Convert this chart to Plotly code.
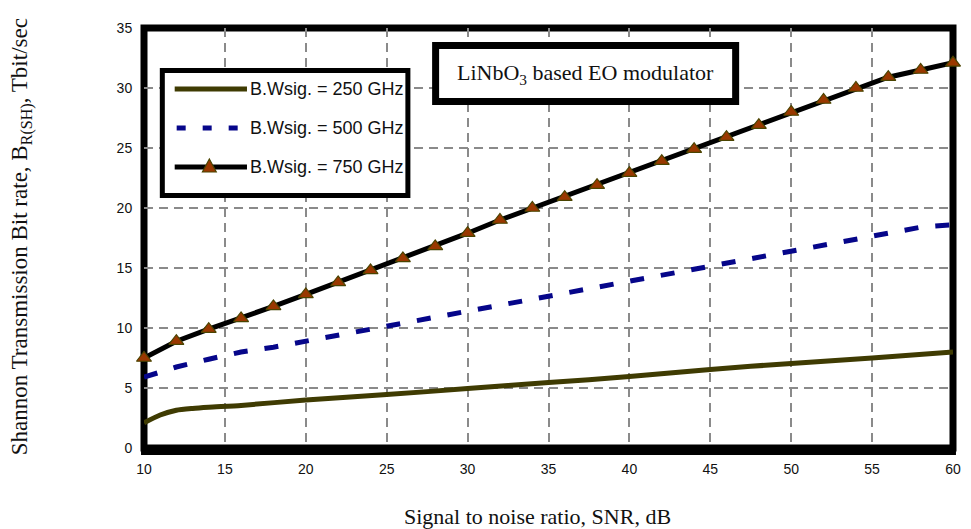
import plotly.graph_objects as go

# Signal-to-noise ratio (dB) and Shannon bit rate (Tbit/s) for three signal bandwidths
snr_250 = [10, 11, 12, 13, 14, 16, 20, 25, 30, 35, 40, 45, 50, 55, 60]
rate_250 = [2.1, 2.75, 3.15, 3.3, 3.4, 3.55, 4.0, 4.45, 4.95, 5.45, 5.95, 6.55, 7.05, 7.5, 8.0]

snr_500 = [10, 12, 14, 16, 18, 20, 22, 24, 26, 28, 30, 32, 34, 36, 38, 40,
           42, 44, 46, 48, 50, 52, 54, 56, 58, 60]
rate_500 = [5.9, 6.75, 7.4, 8.0, 8.4, 8.9, 9.4, 9.9, 10.4, 11.0, 11.4, 11.9, 12.4,
            12.9, 13.4, 13.9, 14.4, 14.9, 15.5, 15.9, 16.4, 17.0, 17.4, 17.9, 18.4, 18.6]

snr_750 = [10, 12, 14, 16, 18, 20, 22, 24, 26, 28, 30, 32, 34, 36, 38, 40,
           42, 44, 46, 48, 50, 52, 54, 56, 58, 60]
rate_750 = [7.5, 8.9, 9.9, 10.8, 11.8, 12.8, 13.8, 14.8, 15.8, 16.8, 17.9, 19.0, 20.0,
            20.9, 21.9, 22.9, 23.9, 24.9, 25.9, 26.9, 28.0, 29.0, 30.0, 30.9, 31.5, 32.1]

x_ticks = [10, 15, 20, 25, 30, 35, 40, 45, 50, 55, 60]
y_ticks = [0, 5, 10, 15, 20, 25, 30, 35]

legend_labels = ["B.Wsig. = 250 GHz", "B.Wsig. = 500 GHz", "B.Wsig. = 750 GHz"]

OLIVE = "#3f3b02"
NAVY = "#06068a"
MARKER_FILL = "#9a3800"
MARKER_EDGE = "#4a4400"

W, H = 971, 529
L, R, T, B = 144, 961, 28, 448  # plot-area edges in pixels


def px(xp):
    return (xp - L) / (R - L)


def py(yp):
    return (B - yp) / (B - T)


fig = go.Figure()

fig.add_trace(go.Scatter(
    x=snr_250, y=rate_250, mode="lines", name=legend_labels[0],
    line=dict(color=OLIVE, width=5, shape="spline", smoothing=0.6),
    cliponaxis=False, showlegend=False))

fig.add_trace(go.Scatter(
    x=snr_500, y=rate_500, mode="lines", name=legend_labels[1],
    line=dict(color=NAVY, width=5, dash="14px,17px"),
    cliponaxis=False, showlegend=False))

fig.add_trace(go.Scatter(
    x=snr_750, y=rate_750, mode="lines+markers", name=legend_labels[2],
    line=dict(color="black", width=5),
    marker=dict(symbol="triangle-up", size=13, color=MARKER_FILL,
                line=dict(color=MARKER_EDGE, width=1.2)),
    cliponaxis=False, showlegend=False))

shapes = []
# thick outer frame of the plot area
shapes.append(dict(type="rect", xref="paper", yref="paper", x0=0, y0=0, x1=1, y1=1,
                   line=dict(color="black", width=7), layer="below"))
shapes.append(dict(type="line", xref="paper", yref="paper", x0=px(141), x1=px(964),
                   y0=py(450), y1=py(450), line=dict(color="black", width=10),
                   layer="below"))

# legend box
shapes.append(dict(type="rect", xref="paper", yref="paper",
                   x0=px(162.5), x1=px(410.5), y0=py(70.5), y1=py(195.5),
                   line=dict(color="black", width=5), fillcolor="white", layer="above"))
leg_y = [89, 128, 167]
shapes.append(dict(type="line", xref="paper", yref="paper", x0=px(175), x1=px(248),
                   y0=py(leg_y[0]), y1=py(leg_y[0]), line=dict(color=OLIVE, width=5),
                   layer="above"))
shapes.append(dict(type="line", xref="paper", yref="paper", x0=px(177), x1=px(240),
                   y0=py(leg_y[1]), y1=py(leg_y[1]),
                   line=dict(color=NAVY, width=5, dash="9px,17px"), layer="above"))
shapes.append(dict(type="line", xref="paper", yref="paper", x0=px(175), x1=px(248),
                   y0=py(leg_y[2]), y1=py(leg_y[2]), line=dict(color="black", width=5),
                   layer="above"))
tx, ty = 210, leg_y[2]
tri = "M {:.5f} {:.5f} L {:.5f} {:.5f} L {:.5f} {:.5f} Z".format(
    px(tx - 7), py(ty + 5), px(tx + 7), py(ty + 5), px(tx), py(ty - 8))
shapes.append(dict(type="path", xref="paper", yref="paper", path=tri,
                   fillcolor=MARKER_FILL, line=dict(color=MARKER_EDGE, width=1.2),
                   layer="above"))

# title box
shapes.append(dict(type="rect", xref="paper", yref="paper",
                   x0=px(438.5), x1=px(741.5), y0=py(45.5), y1=py(101.5),
                   line=dict(color="black", width=7), fillcolor="white", layer="above"))

annotations = []
for lbl, yy in zip(legend_labels, leg_y):
    annotations.append(dict(text=lbl, xref="paper", yref="paper", x=px(249), y=py(yy),
                            xanchor="left", yanchor="middle", showarrow=False,
                            font=dict(family="Liberation Sans, Arial", size=18,
                                      color="#111111")))

annotations.append(dict(text="LiNbO<sub>3</sub> based EO modulator", xref="paper",
                        yref="paper", x=px(590), y=py(74), xanchor="center",
                        yanchor="middle", showarrow=False,
                        font=dict(family="Liberation Serif, Times New Roman", size=22,
                                  color="#111111")))

annotations.append(dict(text="Signal to noise ratio, SNR, dB", xref="paper", yref="paper",
                        x=px(541), y=py(516), xanchor="center", yanchor="middle",
                        showarrow=False,
                        font=dict(family="Liberation Serif, Times New Roman", size=22,
                                  color="#111111")))

annotations.append(dict(text="Shannon Transmission Bit rate, B<sub>R(SH)</sub>, Tbit/sec",
                        xref="paper", yref="paper", x=px(20), y=py(237),
                        xanchor="center", yanchor="middle", textangle=-90,
                        showarrow=False,
                        font=dict(family="Liberation Serif, Times New Roman", size=23,
                                  color="#111111")))

grid = dict(showgrid=True, gridcolor="#8a8a8a", gridwidth=1.5, griddash="9px,6px",
            zeroline=False, showline=False, ticks="outside", ticklen=8,
            tickcolor="rgba(0,0,0,0)",
            tickfont=dict(family="Liberation Sans, Arial", size=14, color="#111111"))

fig.update_layout(
    width=W, height=H,
    margin=dict(l=L, r=W - R, t=T, b=H - B),
    paper_bgcolor="white", plot_bgcolor="rgba(0,0,0,0)",
    xaxis=dict(range=[10, 60], tickvals=x_ticks, **grid),
    yaxis=dict(range=[0, 35], tickvals=y_ticks, **grid),
    shapes=shapes, annotations=annotations, showlegend=False,
)

fig.write_html("out.html")
